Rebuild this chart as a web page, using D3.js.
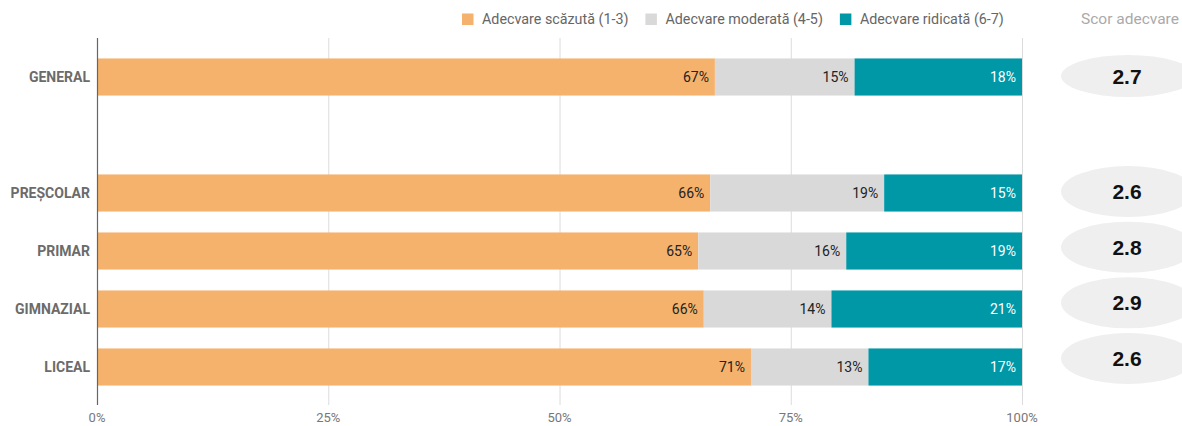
<!DOCTYPE html>
<html><head><meta charset="utf-8">
<script src="https://cdn.jsdelivr.net/npm/d3@7"></script>
<style>body{margin:0;background:#fff;}svg{display:block;font-family:Roboto,"Noto Sans",sans-serif;}</style>
</head><body>
<svg id="c" width="1182" height="426"></svg>
<script>
const categories = ["GENERAL", "PREȘCOLAR", "PRIMAR", "GIMNAZIAL", "LICEAL"];
const lowValues = [66.8, 66.3, 65.0, 65.6, 70.7];
const moderateValues = [15.1, 18.8, 16.0, 13.8, 12.7];
const highValues = [18.1, 14.9, 19.0, 20.6, 16.6];
const scores = [2.7, 2.6, 2.8, 2.9, 2.6];
const seriesNames = ["Adecvare scăzută (1-3)", "Adecvare moderată (4-5)", "Adecvare ridicată (6-7)"];
const tickValues = [0, 25, 50, 75, 100];
const scoreTitle = "Scor adecvare";

const colors = ["#F5B26C", "#D9D9D9", "#0097A7"];
const labelColors = ["#222", "#222", "#fff"];

const svg = d3.select("#c");
const x = d3.scaleLinear().domain([0, 100]).range([97, 1022]);
const rows = ["GENERAL", "__gap", ...categories.slice(1)];
const y = d3.scaleBand().domain(rows).range([48, 396]).paddingInner(0.36).paddingOuter(0.18);

// grid
svg.append("g").selectAll("line").data(tickValues.slice(1)).join("line")
  .attr("x1", d => x(d) + 0.5).attr("x2", d => x(d) + 0.5)
  .attr("y1", 38).attr("y2", 405).attr("stroke", "#dcdcdc").attr("stroke-width", 1);

// tick labels
svg.append("g").selectAll("text").data(tickValues).join("text")
  .attr("x", d => x(d)).attr("y", 422).attr("text-anchor", "middle")
  .attr("font-size", 13).attr("fill", "#777").text(d => d + "%");

// bars
const data = categories.map((c, i) => ({cat: c, vals: [lowValues[i], moderateValues[i], highValues[i]]}));
const g = svg.append("g");
data.forEach(d => {
  let acc = 0;
  d.vals.forEach((v, k) => {
    const x0 = x(acc), x1 = x(acc + v);
    g.append("rect").attr("x", x0).attr("y", y(d.cat)).attr("width", x1 - x0)
      .attr("height", y.bandwidth()).attr("fill", colors[k]);
    g.append("text").attr("x", x1 - 6).attr("y", y(d.cat) + y.bandwidth() / 2 + 5)
      .attr("text-anchor", "end").attr("font-size", 14).attr("fill", labelColors[k])
      .text(Math.round(v) + "%");
    acc += v;
  });
  svg.append("text").attr("x", 90).attr("y", y(d.cat) + y.bandwidth() / 2 + 5)
    .attr("text-anchor", "end").attr("font-size", 14).attr("font-weight", "bold")
    .attr("fill", "#6b6b6b").text(d.cat);
});

// axis line
svg.append("line").attr("x1", x(0) + 0.5).attr("x2", x(0) + 0.5).attr("y1", 38).attr("y2", 405)
  .attr("stroke", "#666").attr("stroke-width", 1.2);

// scores
const sy = d3.scaleLinear().domain([0, 2, 5]).range([76, 191.5, 358.5]);
const scoreIdx = [0, 2, 3, 4, 5];
const sg = svg.append("g");
scores.forEach((s, i) => {
  const cy = sy(scoreIdx[i]);
  sg.append("ellipse").attr("cx", 1128).attr("cy", cy).attr("rx", 67).attr("ry", i === 0 ? 21 : 25.5)
    .attr("fill", "#efefef");
  sg.append("text").attr("x", 1127).attr("y", cy + 7.5).attr("text-anchor", "middle")
    .attr("font-family", "'Liberation Sans',Arial,sans-serif").attr("font-weight", "bold")
    .attr("font-size", 21).attr("fill", "#111").text(s.toFixed(1));
});

// legend
let lx = 462;
const lg = svg.append("g");
seriesNames.forEach((n, k) => {
  lg.append("rect").attr("x", lx).attr("y", 13.5).attr("width", 11.5).attr("height", 11.5).attr("fill", colors[k]);
  const t = lg.append("text").attr("x", lx + 20).attr("y", 24).attr("font-size", 14.3).attr("fill", "#666").text(n);
  lx += 20 + t.node().getComputedTextLength() + 17;
});
svg.append("text").attr("x", 1081).attr("y", 24).attr("font-size", 15.5).attr("fill", "#aaa").text(scoreTitle);
</script>
</body></html>
